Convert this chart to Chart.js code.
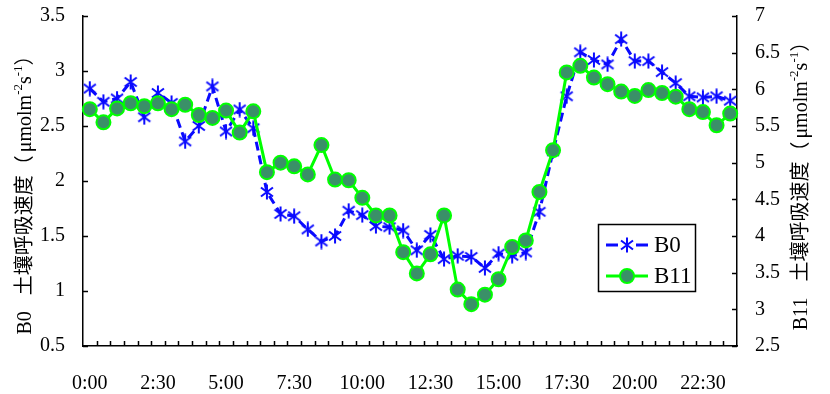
<!DOCTYPE html>
<html>
<head>
<meta charset="utf-8">
<script src="https://cdn.jsdelivr.net/npm/chart.js@4.4.1/dist/chart.umd.min.js"></script>
<style>
html,body{margin:0;padding:0;background:#fff;}
#wrap{width:830px;height:394px;position:relative;}
</style>
</head>
<body>
<div id="wrap"><canvas id="c" width="830" height="394"></canvas></div>
<script>
const times = ["0:00","0:30","1:00","1:30","2:00","2:30","3:00","3:30","4:00","4:30",
"5:00","5:30","6:00","6:30","7:00","7:30","8:00","8:30","9:00","9:30",
"10:00","10:30","11:00","11:30","12:00","12:30","13:00","13:30","14:00","14:30",
"15:00","15:30","16:00","16:30","17:00","17:30","18:00","18:30","19:00","19:30",
"20:00","20:30","21:00","21:30","22:00","22:30","23:00","23:30"];

const b0 = [2.84,2.72,2.75,2.90,2.58,2.80,2.71,2.36,2.50,2.86,
2.45,2.65,2.48,1.90,1.70,1.68,1.56,1.45,1.50,1.73,
1.69,1.59,1.58,1.55,1.37,1.51,1.29,1.32,1.31,1.21,
1.34,1.32,1.35,1.72,2.27,2.77,3.17,3.10,3.06,3.29,
3.09,3.09,2.99,2.89,2.77,2.76,2.77,2.73];

const b11 = [5.73,5.55,5.74,5.81,5.77,5.81,5.73,5.79,5.65,5.61,
5.71,5.41,5.70,4.87,5.00,4.95,4.84,5.24,4.77,4.76,
4.52,4.28,4.28,3.78,3.49,3.75,4.28,3.27,3.07,3.20,
3.41,3.85,3.94,4.60,5.17,6.23,6.32,6.16,6.07,5.97,
5.91,5.99,5.95,5.90,5.73,5.69,5.51,5.67];

const leftTicks = {min:0.5, max:3.5, step:0.5};
const rightTicks = {min:2.5, max:7, step:0.5};
const seriesNames = ["B0","B11"];

const BLUE = '#0a0aff';
const GREEN = '#00ff00';
const GFILL = '#3a9068';
const FONT = '"Liberation Serif", "Times New Roman", serif';
const CJK = '"Liberation Serif", "Noto Sans CJK SC", serif';

function makeAsterisk(){
  const cv = document.createElement('canvas');
  cv.width = 16; cv.height = 16;
  const g = cv.getContext('2d');
  g.strokeStyle = BLUE; g.lineWidth = 2; g.lineCap = 'butt';
  g.beginPath();
  g.moveTo(8,0.5); g.lineTo(8,15.5);
  g.moveTo(2,3.5); g.lineTo(14,12.5);
  g.moveTo(2,12.5); g.lineTo(14,3.5);
  g.stroke();
  return cv;
}
const asterisk = makeAsterisk();

function fmt(v){ return String(Math.round(v*10)/10); }

const tickPlugin = {
  id:'innerTicks',
  afterDraw(chart){
    const ctx = chart.ctx, a = chart.chartArea;
    const sx = chart.scales.x, sy = chart.scales.y, sy1 = chart.scales.y1;
    ctx.save();
    ctx.strokeStyle = '#000'; ctx.lineWidth = 1.5;
    ctx.beginPath();
    const n = times.length;
    for(let i=1;i<n;i++){
      const x = Math.round((sx.getPixelForValue(i-1)+sx.getPixelForValue(i))/2)+0.5;
      ctx.moveTo(x,a.bottom); ctx.lineTo(x,a.bottom-5);
    }
    for(let v=leftTicks.min; v<=leftTicks.max+1e-9; v+=leftTicks.step){
      const y = Math.round(sy.getPixelForValue(v))+0.5;
      ctx.moveTo(a.left,y); ctx.lineTo(a.left+5,y);
    }
    for(let v=rightTicks.min; v<=rightTicks.max+1e-9; v+=rightTicks.step){
      const y = Math.round(sy1.getPixelForValue(v))+0.5;
      ctx.moveTo(a.right,y); ctx.lineTo(a.right-5,y);
    }
    ctx.stroke();

    // axis titles
    function drawTitle(prefix, cx, cy){
      const parts = [
        {t: prefix, sup:false, gap:16},
        {t: '土壤呼吸速度（', sup:false, gap:3},
        {t: 'μmolm', sup:false, gap:0},
        {t:'-2', sup:true, gap:0},
        {t:'s', sup:false, gap:0},
        {t:'-1', sup:true, gap:0},
        {t:'）', sup:false, gap:0}
      ];
      const fs = 20, fsSup = 13;
      let total = 0;
      parts.forEach(p=>{ ctx.font = (p.sup?fsSup:fs)+'px '+CJK; p.w = ctx.measureText(p.t).width; total += p.w + p.gap; });
      ctx.save();
      ctx.translate(cx, cy);
      ctx.rotate(-Math.PI/2);
      ctx.fillStyle = '#000';
      ctx.textBaseline = 'middle';
      ctx.textAlign = 'left';
      let x = -total/2;
      parts.forEach(p=>{
        ctx.font = (p.sup?fsSup:fs)+'px '+CJK;
        ctx.fillText(p.t, x, p.sup ? -7 : 0);
        x += p.w + p.gap;
      });
      ctx.restore();
    }
    drawTitle(seriesNames[0], 26, 190);
    drawTitle(seriesNames[1], 802, 181);

    // legend
    const lx = Math.round(a.left + (a.right-a.left)*0.7875), ly = Math.round(a.top + (a.bottom-a.top)*0.630);
    const lw = 97, lh = 67;
    ctx.fillStyle = '#fff';
    ctx.fillRect(lx, ly, lw, lh);
    ctx.strokeStyle = '#000'; ctx.lineWidth = 1.5;
    ctx.strokeRect(lx+0.5, ly+0.5, lw, lh);
    const rows = [ly+21, ly+52];
    // B0
    ctx.strokeStyle = BLUE; ctx.lineWidth = 3;
    ctx.beginPath(); ctx.moveTo(lx+8, rows[0]); ctx.lineTo(lx+20, rows[0]);
    ctx.moveTo(lx+38, rows[0]); ctx.lineTo(lx+50, rows[0]); ctx.stroke();
    ctx.drawImage(asterisk, lx+29-8, rows[0]-8);
    // B11
    ctx.strokeStyle = GREEN; ctx.lineWidth = 3;
    ctx.beginPath(); ctx.moveTo(lx+8, rows[1]); ctx.lineTo(lx+50, rows[1]); ctx.stroke();
    ctx.beginPath(); ctx.arc(lx+29, rows[1], 7, 0, Math.PI*2);
    ctx.fillStyle = GFILL; ctx.fill();
    ctx.lineWidth = 2; ctx.strokeStyle = GREEN; ctx.stroke();
    ctx.fillStyle = '#000';
    ctx.font = '23px '+FONT;
    ctx.textBaseline = 'middle'; ctx.textAlign = 'left';
    ctx.fillText(seriesNames[0], lx+56, rows[0]+1);
    ctx.fillText(seriesNames[1], lx+56, rows[1]+1);
    ctx.restore();
  }
};

function fixV(w){
  return function(s){ s.width = w; s.paddingTop = 0; s.paddingBottom = 0; };
}

new Chart(document.getElementById('c'), {
  type:'line',
  data:{
    labels: times,
    datasets:[
      {label:seriesNames[0], data:b0, yAxisID:'y', order:1,
       borderColor:BLUE, borderWidth:3, borderDash:[9,5], fill:false, tension:0,
       pointStyle:asterisk, pointRadius:8, pointHoverRadius:8},
      {label:seriesNames[1], data:b11, yAxisID:'y1', order:0,
       borderColor:GREEN, borderWidth:3, fill:false, tension:0,
       pointStyle:'circle', pointRadius:7, pointHoverRadius:7,
       pointBackgroundColor:GFILL, pointBorderColor:GREEN, pointBorderWidth:2}
    ]
  },
  options:{
    responsive:false,
    animation:false,
    events:[],
    layout:{padding:{top:16, left:0, right:0, bottom:0}},
    plugins:{legend:{display:false}, tooltip:{enabled:false}},
    scales:{
      x:{
        type:'category', offset:true,
        grid:{display:false, drawTicks:false},
        border:{display:true, color:'#000', width:1.5},
        ticks:{autoSkip:false, maxRotation:0, minRotation:0, padding:26, color:'#000',
          font:{family:FONT, size:20},
          callback:function(v, i){ return i%5===0 ? times[i] : ''; }},
        afterFit(s){ s.height = 48; s.paddingLeft = 0; s.paddingRight = 0; }
      },
      y:{
        position:'left', min:leftTicks.min, max:leftTicks.max,
        grid:{display:false, drawTicks:false},
        border:{display:true, color:'#000', width:1.5},
        ticks:{stepSize:leftTicks.step, padding:18, color:'#000', font:{family:FONT, size:20}, callback:fmt},
        afterFit: fixV(83)
      },
      y1:{
        position:'right', min:rightTicks.min, max:rightTicks.max,
        grid:{display:false, drawTicks:false},
        border:{display:true, color:'#000', width:1.5},
        ticks:{stepSize:rightTicks.step, padding:18, color:'#000', font:{family:FONT, size:20}, callback:fmt},
        afterFit: fixV(93)
      }
    }
  },
  plugins:[tickPlugin]
});
</script>
</body>
</html>
